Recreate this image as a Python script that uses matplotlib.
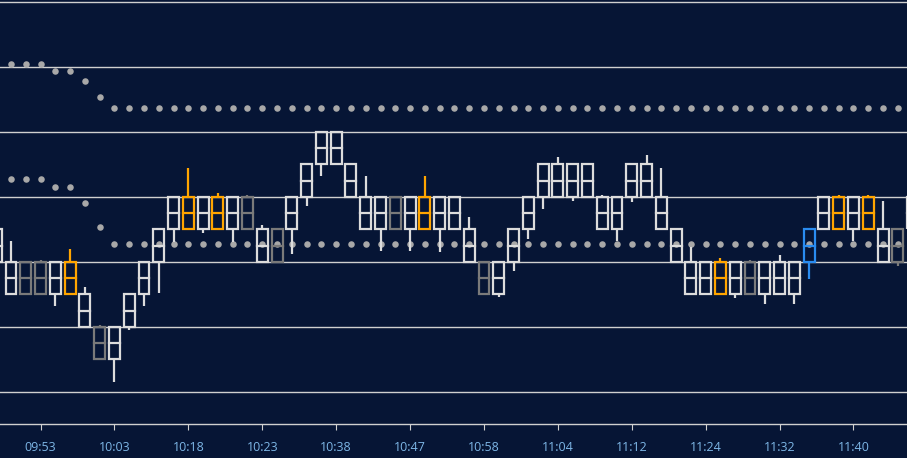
import matplotlib
matplotlib.use("Agg")
import matplotlib.pyplot as plt
from matplotlib.patches import Rectangle

# box bottom level (each box spans one level), wick low/high, colour code
box_level = [0,-1,-1,-1,-1,-1,-2,-3,-3,-2,-1,0,1,1,1,1,1,1,0,0,1,2,3,3,2,1,1,1,1,1,1,1,0,-1,-1,0,1,2,2,2,2,1,1,2,2,1,0,-1,-1,-1,-1,-1,-1,-1,-1,0,1,1,1,1,0,0,1]
wick_low = [0,-1,-1,-1,-1.35,-1,-2,-3,-3.68,-2.1,-1.35,-0.94,0.62,1,0.9,1,0.62,1,0,0,0.24,1.73,2.66,3,2,1,0.35,1,0.35,1,0.32,1,0,-1,-1.09,-0.27,0.71,1.64,2,1.89,2,1,0.63,1.83,2,1,0,-1,-1,-1,-1.1,-1,-1.28,-1,-1.28,-0.52,1,1,0.63,1,0,-0.11,1]
wick_high = [1,0.65,0,0.06,0,0.4,-0.77,-1.95,-2,-1,0,1,2,2.88,2,2.11,2,2.05,1.13,1,2,3,4,4,3,2.65,2,2,2,2.65,2,2,1.38,0,0,1,2,3,3.22,3,3,2.05,2,3,3.29,2.89,1.04,0.47,0,0.11,0,0.06,0,0.2,0,1,2,2.06,2,2.06,1.88,1,2]
kind = "wwggwowgwwwwwowowgwgwwwwwwwgwowwwgwwwwwwwwwwwwwwwowgwwwbwowowgw"
upper_dots = [None,6.09,6.09,6.09,5.88,5.88,5.57,5.08] + [4.74]*55
lower_dots = [None,2.55,2.55,2.55,2.31,2.31,1.82,1.08] + [0.55]*55
tick_idx = [3,8,13,18,23,28,33,38,43,48,53,58]
tick_labels = ["09:53","10:03","10:18","10:23","10:38","10:47","10:58","11:04","11:12","11:24","11:32","11:40"]

colors = {"w": "#dcdcdc", "g": "#7a7a7a", "o": "#ffa500", "b": "#2a8cf0"}
bg = "#061535"

fig = plt.figure(figsize=(9.07, 4.58), dpi=100)
fig.patch.set_facecolor(bg)
ax = fig.add_axes([0, 34/458, 1, 424/458])
ax.set_facecolor(bg)

for g in [8, 6, 4, 2, 0, -2, -4]:
    ax.axhline(g, color="#d0d0d0", lw=1, zorder=1)

xs = list(range(len(box_level)))
ux = [i for i in xs if upper_dots[i] is not None]
ax.scatter(ux, [upper_dots[i] for i in ux], s=22, color="#a8a8a8", zorder=2, linewidths=0)
ax.scatter(ux, [lower_dots[i] for i in ux], s=22, color="#a8a8a8", zorder=2, linewidths=0)

w = 0.74
for i in xs:
    c = colors[kind[i]]
    b = box_level[i]
    if wick_low[i] < b:
        ax.plot([i, i], [wick_low[i], b], color=c, lw=1.6, zorder=3, solid_capstyle="butt")
    if wick_high[i] > b + 1:
        ax.plot([i, i], [b + 1, wick_high[i]], color=c, lw=1.6, zorder=3, solid_capstyle="butt")
    ax.add_patch(Rectangle((i - w / 2, b), w, 1, fill=False, edgecolor=c, lw=1.6, zorder=4))
    ax.plot([i - w / 2, i + w / 2], [b + 0.5, b + 0.5], color=c, lw=1.6, zorder=4)

ax.set_xlim(0.257, 61.62)
ax.set_ylim(-4.985, 8.06)
for s in ["top", "left", "right"]:
    ax.spines[s].set_visible(False)
ax.spines["bottom"].set_color("#d0d0d0")
ax.spines["bottom"].set_linewidth(1)
ax.set_yticks([])
ax.set_xticks(tick_idx)
ax.set_xticklabels(tick_labels, color="#7db6e6", fontsize=9, family="Open Sans")
ax.tick_params(axis="x", colors="#d0d0d0", length=4, labelcolor="#7db6e6", pad=8)
fig.savefig("out.png", dpi=100, facecolor=bg)
